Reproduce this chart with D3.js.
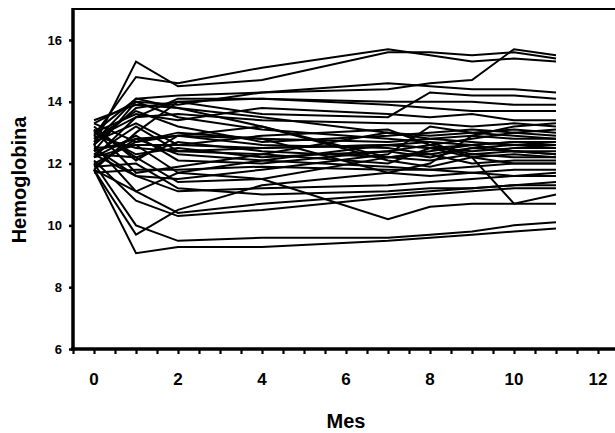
<!DOCTYPE html>
<html>
<head>
<meta charset="utf-8">
<script src="https://cdn.jsdelivr.net/npm/d3@7"></script>
<style>
  body { margin: 0; background: #fff; }
  text { font-family: Arial, "Liberation Sans", sans-serif; font-weight: bold; fill: #000; }
</style>
</head>
<body>
<svg width="615" height="433"></svg>
<script>
// months measured for every patient
const months = [0, 1, 2, 4, 7, 8, 9, 10, 11];

// hemoglobin per patient, one value per month above
const patients = [
  [12.6, 15.3, 14.5, 14.7, 15.6, 15.6, 15.5, 15.6, 15.4],
  [12.9, 14.8, 14.6, 15.1, 15.7, 15.5, 15.3, 15.4, 15.3],
  [13.0, 14.1, 14.2, 14.3, 14.4, 14.6, 14.7, 15.7, 15.5],
  [13.3, 14.0, 13.9, 14.3, 14.6, 14.5, 14.4, 14.4, 14.3],
  [12.2, 13.5, 14.1, 14.1, 14.0, 14.0, 14.0, 13.9, 13.9],
  [11.8, 13.0, 14.0, 13.6, 13.5, 14.3, 14.2, 14.2, 14.1],
  [13.4, 13.9, 13.8, 13.5, 13.0, 12.9, 13.0, 13.1, 13.0],
  [12.8, 13.5, 13.6, 13.4, 13.3, 13.3, 13.2, 13.3, 13.2],
  [12.4, 12.8, 12.9, 12.8, 12.7, 12.8, 12.9, 12.8, 12.8],
  [12.5, 12.6, 12.6, 12.5, 12.6, 12.5, 12.4, 12.5, 12.5],
  [12.9, 12.5, 12.4, 12.3, 12.0, 12.5, 12.6, 12.7, 12.6],
  [12.0, 12.7, 12.9, 13.2, 12.1, 11.9, 12.2, 12.3, 12.2],
  [11.7, 11.8, 11.8, 11.9, 11.8, 11.8, 11.9, 12.0, 12.0],
  [12.3, 11.6, 11.5, 11.8, 12.3, 13.2, 13.0, 12.9, 12.8],
  [13.1, 12.2, 11.4, 11.5, 12.2, 12.4, 12.6, 12.4, 12.3],
  [11.8, 11.1, 10.4, 10.7, 11.0, 11.1, 11.2, 11.3, 11.3],
  [12.1, 10.8, 10.3, 10.5, 10.9, 11.0, 11.1, 11.2, 11.2],
  [11.8,  9.7, 10.5, 11.3, 11.7, 11.6, 11.7, 11.8, 11.8],
  [11.8,  9.1,  9.3,  9.3,  9.5,  9.6,  9.7,  9.8,  9.9],
  [12.0, 10.0,  9.5,  9.6,  9.6,  9.7,  9.8, 10.0, 10.1],
  [12.6, 11.1, 11.7, 11.5, 10.2, 10.6, 10.7, 10.7, 10.7],
  [12.3, 13.2, 12.4, 12.5, 12.6, 12.7, 12.2, 10.7, 11.0],
  [13.3, 12.7, 13.0, 12.8, 11.7, 12.0, 12.9, 13.2, 13.3],
  [12.7, 14.1, 13.8, 13.2, 12.2, 12.3, 12.5, 12.6, 12.6],
  [12.2, 12.6, 11.7, 12.1, 12.6, 12.5, 12.2, 12.0, 12.0],
  [13.2, 12.1, 12.9, 12.6, 12.5, 12.3, 12.0, 12.1, 12.1],
  [12.5, 11.6, 11.1, 11.2, 11.3, 11.4, 11.5, 11.6, 11.7],
  [12.8, 13.7, 13.2, 12.7, 12.9, 13.0, 13.1, 13.0, 12.9],
  [13.0, 12.3, 12.5, 12.2, 12.4, 12.2, 12.5, 12.4, 12.4],
  [12.4, 14.0, 13.5, 13.1, 12.8, 12.7, 12.6, 12.7, 12.7],
  [11.9, 12.8, 12.3, 12.1, 11.9, 11.8, 11.7, 11.6, 11.6],
  [12.6, 13.8, 14.0, 14.1, 13.9, 13.8, 13.7, 13.7, 13.7],
  [13.1, 11.7, 11.9, 12.3, 13.0, 12.8, 12.7, 12.6, 12.5],
  [12.2, 12.9, 12.1, 12.0, 12.4, 12.6, 12.8, 13.0, 13.1],
  [12.7, 13.3, 12.6, 12.9, 13.1, 12.6, 12.3, 12.4, 12.3],
  [11.9, 12.0, 11.2, 11.0, 11.1, 11.2, 11.2, 11.3, 11.4],
  [13.0, 13.6, 13.4, 13.8, 13.6, 13.5, 13.6, 13.4, 13.4],
  [12.3, 12.2, 12.7, 12.4, 12.2, 12.1, 12.3, 12.2, 12.2]
];

const xTicks = [0, 2, 4, 6, 8, 10, 12];
const xMinorTicks = d3.range(-0.5, 12.5, 0.5);
const yTicks = [6, 8, 10, 12, 14, 16];

const svg = d3.select('svg');

const x = d3.scaleLinear().domain([-0.5, 12.5]).range([73, 619]);
const y = d3.scaleLinear().domain([6, 17]).range([349, 9]);

// frame (right side falls off the picture)
svg.append('line')
    .attr('x1', x(-0.5)).attr('x2', 640)
    .attr('y1', y(17)).attr('y2', y(17))
    .attr('stroke', 'black').attr('stroke-width', 2);

// patient lines
const line = d3.line()
    .x((d, i) => x(months[i]))
    .y(d => y(d));

svg.append('g')
  .selectAll('path')
  .data(patients)
  .join('path')
    .attr('d', line)
    .attr('fill', 'none')
    .attr('stroke', 'black')
    .attr('stroke-width', 2)
    .attr('stroke-linejoin', 'miter');

// x axis
const xAxis = svg.append('g')
    .attr('transform', `translate(0, ${y(6)})`)
    .call(d3.axisBottom(x).tickValues(xMinorTicks).tickSize(5).tickFormat(''));
xAxis.select('.domain').attr('stroke-width', 3.5).attr('d', `M${x(-0.5) - 2},0H640`);
xAxis.selectAll('.tick line').attr('stroke-width', 2.2);

svg.append('g')
  .selectAll('text')
  .data(xTicks)
  .join('text')
    .attr('x', d => x(d))
    .attr('y', 385)
    .attr('text-anchor', 'middle')
    .attr('font-size', 17)
    .text(d => d);

// y axis
const yAxis = svg.append('g')
    .attr('transform', `translate(${x(-0.5)}, 0)`)
    .call(d3.axisLeft(y).tickValues(yTicks).tickSize(4).tickPadding(7));
yAxis.select('.domain').attr('stroke-width', 3.5).attr('d', `M0,${y(17) - 1}V${y(6) + 2}`);
yAxis.selectAll('.tick line').attr('stroke-width', 2.5);
yAxis.selectAll('.tick text')
    .attr('font-size', 13)
    .attr('font-family', 'Arial, "Liberation Sans", sans-serif')
    .attr('font-weight', 'bold');

// axis titles
svg.append('text')
    .attr('x', (x(-0.5) + x(12.5)) / 2)
    .attr('y', 428)
    .attr('text-anchor', 'middle')
    .attr('font-size', 20)
    .text('Mes');

svg.append('text')
    .attr('transform', `translate(26, 180) rotate(-90)`)
    .attr('text-anchor', 'middle')
    .attr('font-size', 20)
    .text('Hemoglobina');
</script>
</body>
</html>
